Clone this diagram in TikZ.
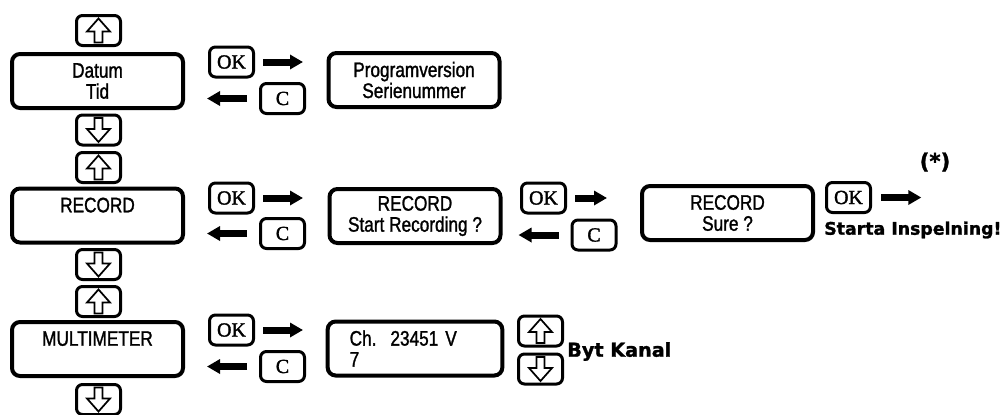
\documentclass[tikz,border=0pt]{standalone}
\usepackage{fontspec}
\setmainfont{Liberation Sans}[FakeStretch=0.82, FakeBold=1.3]
\newfontfamily\keyfont{Liberation Serif}[FakeBold=1.6]
\newfontfamily\heavyfont{DejaVu Sans}[FakeBold=1.4]
\usetikzlibrary{arrows.meta}
\tikzset{
  lcd/.style={draw, line width=3pt, rounded corners=6pt, minimum width=128.25pt,
    minimum height=40.5pt, inner sep=0pt, align=center,
    font=\fontsize{15.75pt}{15.75pt}\selectfont},
  keybox/.style={draw, line width=2.25pt, rounded corners=4.5pt, minimum width=33pt,
    minimum height=22.5pt, inner sep=0pt, font=\keyfont\fontsize{15pt}{15pt}\selectfont},
  bigarrow/.style={line width=5.25pt, line cap=butt, -{Triangle[length=9.75pt, width=10.5pt]}},
  heavy/.style={font=\heavyfont\bfseries\fontsize{13pt}{16pt}\selectfont, inner sep=0pt},
  uparrow/.pic={\draw[line width=1.3pt, line join=miter] (0,-12) -- (11.5,1) -- (4,1) -- (4,12) -- (-4,12) -- (-4,1) -- (-11.5,1) -- cycle;},
  downarrow/.pic={\draw[line width=1.3pt, line join=miter] (0,12) -- (11.5,-1) -- (4,-1) -- (4,-12) -- (-4,-12) -- (-4,-1) -- (-11.5,-1) -- cycle;}
}
\begin{document}
\begin{tikzpicture}[x=0.75pt,y=-0.75pt]
\useasboundingbox (0,0) rectangle (1005,414);
% LCD boxes
\node[lcd] (datum) at (97.5,81) {Datum\\Tid};
\node[lcd] (prog) at (414,80) {Programversion\\Serienummer};
\node[lcd] (record) at (97.5,215.5) {RECORD\\\mbox{}};
\node[lcd] (startrec) at (415,216) {RECORD\\Start Recording ?};
\node[lcd] (sure) at (727.5,213) {RECORD\\Sure ?};
\node[lcd] (multi) at (97.5,349) {MULTIMETER\\\mbox{}};
\node[lcd, align=left, text width=98pt, inner xsep=16.5pt] (ch) at (415,348.5) {Ch.\ \ 23451 V\\7};
% arrow keys
\node[keybox] (up1) at (98.5,30.5) {};
\node[keybox] (dn1) at (98.5,130) {};
\node[keybox] (up2) at (98.5,167.5) {};
\node[keybox] (dn2) at (98.5,264.5) {};
\node[keybox] (up3) at (98.5,301.5) {};
\node[keybox] (dn3) at (98.5,399.5) {};
\node[keybox] (up4) at (540.5,331) {};
\node[keybox] (dn4) at (540.5,369) {};
\foreach \k in {up1,up2,up3,up4} \pic at (\k) {uparrow};
\foreach \k in {dn1,dn2,dn3,dn4} \pic at (\k) {downarrow};
% OK / C keys
\node[keybox] (ok1) at (231.5,62) {OK};
\node[keybox] (c1) at (282.5,98.5) {C};
\node[keybox] (ok2) at (231.5,198) {OK};
\node[keybox] (c2) at (282.5,233.5) {C};
\node[keybox] (ok3) at (231.5,330) {OK};
\node[keybox] (c3) at (282.5,366.5) {C};
\node[keybox] (ok4) at (543.5,198) {OK};
\node[keybox] (c4) at (594,235) {C};
\node[keybox] (ok5) at (848.5,197.5) {OK};
% arrows
\draw[bigarrow] ([xshift=6pt]ok1.east) -- ([xshift=36pt]ok1.east);
\draw[bigarrow] ([xshift=-9pt]c1.west) -- ([xshift=-39pt]c1.west);
\draw[bigarrow] ([xshift=6pt]ok2.east) -- ([xshift=36pt]ok2.east);
\draw[bigarrow] ([xshift=-9pt]c2.west) -- ([xshift=-39pt]c2.west);
\draw[bigarrow] ([xshift=6pt]ok3.east) -- ([xshift=36pt]ok3.east);
\draw[bigarrow] ([xshift=-9pt]c3.west) -- ([xshift=-39pt]c3.west);
\draw[bigarrow] ([xshift=6pt]ok4.east) -- ([xshift=30pt]ok4.east);
\draw[bigarrow] ([xshift=-9pt]c4.west) -- ([xshift=-39pt]c4.west);
\draw[bigarrow] ([xshift=7pt]ok5.east) -- ([xshift=37pt]ok5.east);
% labels
\node[heavy, font=\heavyfont\bfseries\fontsize{16pt}{18pt}\selectfont] (star) at (935,162) {(*)};
\node[heavy, anchor=west] (starta) at (824,230) {Starta Inspelning!};
\node[heavy, anchor=west, font=\heavyfont\bfseries\fontsize{14.4pt}{16pt}\selectfont] (byt) at (567,351.5) {Byt Kanal};
\end{tikzpicture}
\end{document}
